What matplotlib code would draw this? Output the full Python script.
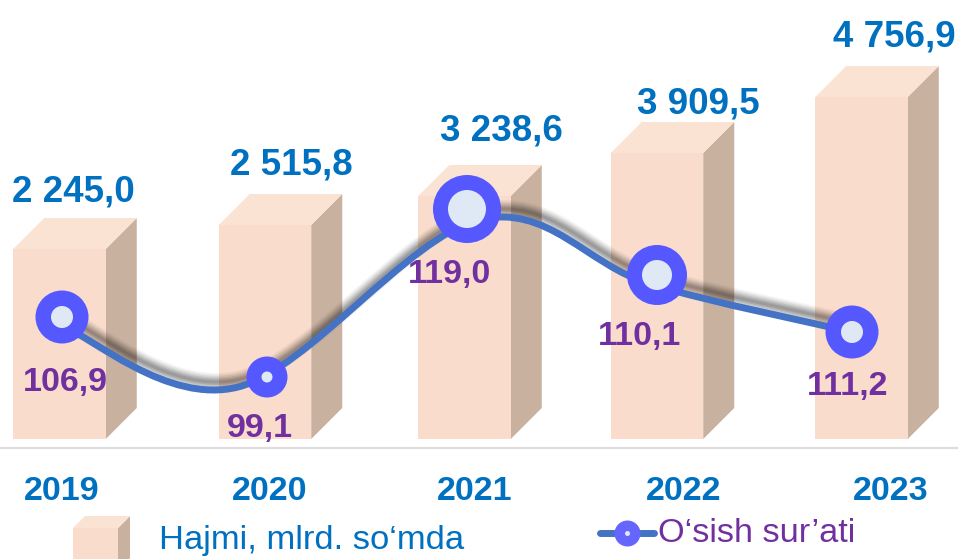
import numpy as np
import matplotlib
matplotlib.use("Agg")
import matplotlib.pyplot as plt
from matplotlib.patches import Polygon, PathPatch
from matplotlib.path import Path

plt.rcParams['font.family'] = ['Liberation Sans', 'DejaVu Sans']

years = ["2019", "2020", "2021", "2022", "2023"]
volume_labels = ["2 245,0", "2 515,8", "3 238,6", "3 909,5", "4 756,9"]
growth_labels = ["106,9", "99,1", "119,0", "110,1", "111,2"]
# the picture is hand drawn, its heights do not follow the labels, so read them off it
bar_heights = [190, 214, 243, 286, 342]
marker_heights = [122, 62, 230, 164, 107]
curve_heights = [113, 52, 219, 155, 107]
marker_sizes = [53, 41, 68, 60, 53]
hole_sizes = [22, 11, 38, 30, 22]

# layout, in pixels of the 958x559 picture
W, H = 958, 559
BASE = 439
bar_x = [59.5, 265, 464.5, 657, 861.5]
marker_x = [62, 267, 467, 657, 852]
curve_x = [62, 238, 478, 650, 852]
BAR_W = 92.5
DX, DY = 31, 31

FRONT = "#F9DCCB"
TOP = "#FBE3D4"
SIDE = "#C9B1A0"
BLUE = "#0070C0"
PURPLE = "#7030A0"
LINE = "#4472C4"
RING = "#5558FF"
HOLE = "#DEE9F5"

fig = plt.figure(figsize=(W / 100, H / 100), dpi=100)
ax = fig.add_axes([0, 0, 1, 1])
ax.set_xlim(0, W)
ax.set_ylim(BASE - H, BASE)
ax.axis("off")


def px_text(x, y, s, **kw):
    fig.text(x / W, 1 - (y + 2) / H, s, ha="center", va="center", **kw)


def column(x, bottom, h, w, dx, dy):
    # front, side and top faces of the fake 3d column
    ax.bar([x], [h], bottom=[bottom], width=w, color=FRONT, zorder=2)
    r = x + w / 2
    l = x - w / 2
    top = bottom + h
    ax.add_patch(Polygon([(r, bottom), (r + dx, bottom + dy), (r + dx, top + dy), (r, top)],
                         fc=SIDE, ec="none", zorder=1))
    ax.add_patch(Polygon([(l, top), (l + dx, top + dy), (r + dx, top + dy), (r, top)],
                         fc=TOP, ec="none", zorder=1))


for x, h in zip(bar_x, bar_heights):
    column(x, 0, h, BAR_W, DX, DY)

ax.plot([0, W], [-9, -9], color="#DDDDDD", lw=1.6, zorder=1)


def smooth_path(px, py, dx=0.0, dy=0.0, k=0.17):
    # same idea as an office smoothed line: one bezier per segment
    pts = np.column_stack([px, py]).astype(float)
    verts = [pts[0]]
    codes = [Path.MOVETO]
    for i in range(len(pts) - 1):
        a = pts[max(i - 1, 0)]
        b = pts[i]
        c = pts[i + 1]
        d = pts[min(i + 2, len(pts) - 1)]
        verts += [b + (c - a) * k, c - (d - b) * k, c]
        codes += [Path.CURVE4] * 3
    verts = np.array(verts) + [dx, dy]
    return Path(verts, codes)


# soft shadow above the line
for lw, a in [(18, 0.04), (15, 0.06), (12, 0.07), (9, 0.09), (6, 0.10), (3, 0.10)]:
    ax.add_patch(PathPatch(smooth_path(curve_x, curve_heights, dx=3, dy=8), fc="none", ec="black",
                           lw=lw * 0.72, alpha=a, zorder=3, capstyle="butt"))

ax.add_patch(PathPatch(smooth_path(curve_x, curve_heights), fc="none", ec=LINE, lw=5.0, zorder=4, capstyle="round"))
ax.scatter(marker_x, marker_heights, s=(np.array(marker_sizes) * 0.72) ** 2, color=RING, linewidths=0, zorder=5)
ax.scatter(marker_x, marker_heights, s=(np.array(hole_sizes) * 0.72) ** 2, color=HOLE, linewidths=0, zorder=6)

# labels are placed by hand in the source, so no rule for them
for lab, x, y in zip(volume_labels, [73, 291, 501, 698, 894], [190, 163, 129, 102, 35]):
    px_text(x, y, lab, color=BLUE, fontsize=26.5, fontweight="bold", zorder=7)
for lab, x, y in zip(growth_labels, [65, 260, 450, 640, 848], [381, 426, 273, 334, 384]):
    px_text(x, y, lab, color=PURPLE, fontsize=24.5, fontweight="bold", zorder=7)
for lab, x in zip(years, [62, 270, 475, 684, 891]):
    px_text(x, 489, lab, color=BLUE, fontsize=24.5, fontweight="bold")

# legend
column(95.5, BASE - 570, 42, 45, 12, 12)
fig.text(159 / W, 1 - 541 / H, "Hajmi, mlrd. so\u2018mda", color=BLUE, fontsize=24.8, va="center")

ly = BASE - 533
ax.plot([600, 654], [ly, ly], color=LINE, lw=5.0, solid_capstyle="round", zorder=4)
ax.scatter([627], [ly], s=(26 * 0.72) ** 2, color="#6666FF", linewidths=0, zorder=5)
ax.scatter([627], [ly], s=(5 * 0.72) ** 2, color=HOLE, linewidths=0, zorder=6)
fig.text(658 / W, 1 - 533 / H, "O\u2018sish sur\u2019ati", color=PURPLE, fontsize=24.7, va="center")

plt.savefig("out.png", dpi=100)
